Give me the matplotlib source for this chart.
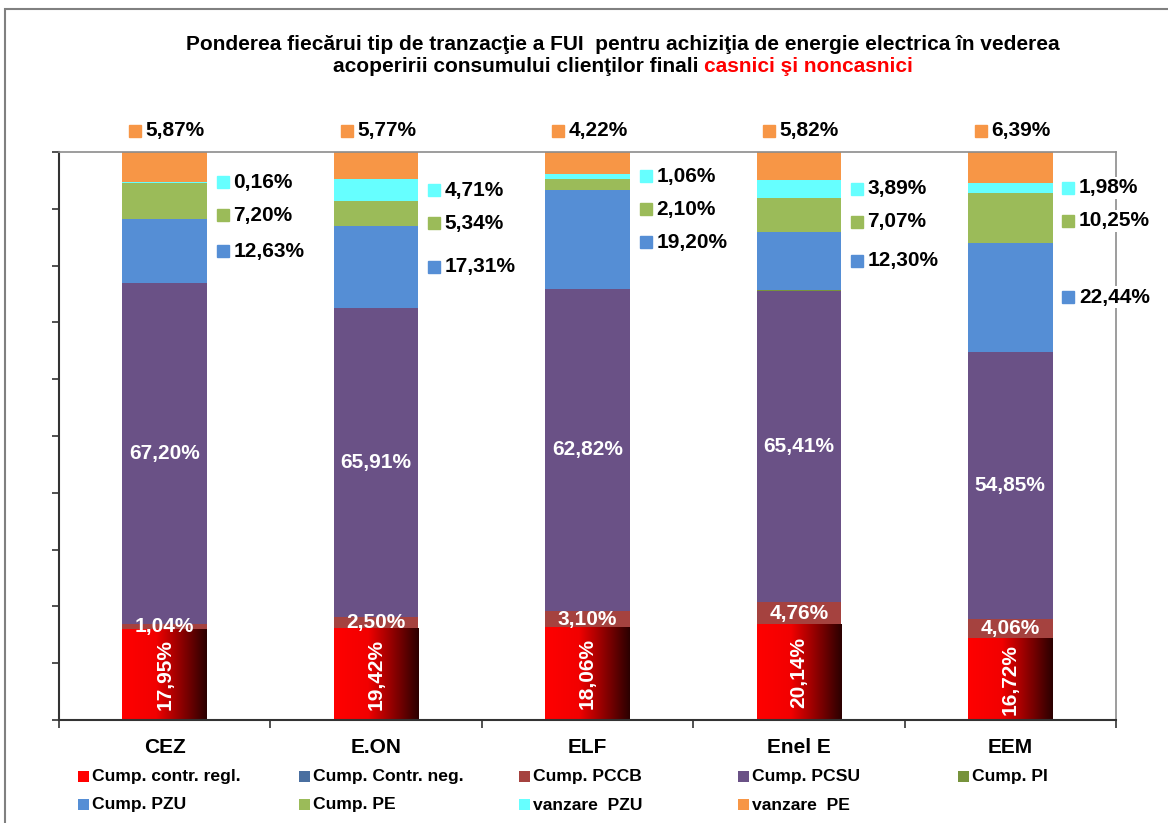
import matplotlib
matplotlib.use("Agg")
import matplotlib.pyplot as plt
import numpy as np
from matplotlib.patches import Rectangle
from matplotlib.colors import LinearSegmentedColormap

plt.rcParams['font.family'] = ['Liberation Sans', 'DejaVu Sans']

categories = ["CEZ", "E.ON", "ELF", "Enel E", "EEM"]
series_names = ["Cump. contr. regl.", "Cump. Contr. neg.", "Cump. PCCB", "Cump. PCSU",
                "Cump. PI", "Cump. PZU", "Cump. PE", "vanzare  PZU", "vanzare  PE"]
contr_regl = [17.95, 19.42, 18.06, 20.14, 16.72]
contr_neg = [0.0, 0.0, 0.0, 0.0, 0.0]
pccb = [1.04, 2.50, 3.10, 4.76, 4.06]
pcsu = [67.20, 65.91, 62.82, 65.41, 54.85]
pi = [0.0, 0.0, 0.0, 0.25, 0.0]
pzu = [12.63, 17.31, 19.20, 12.30, 22.44]
pe = [7.20, 5.34, 2.10, 7.07, 10.25]
v_pzu = [0.16, 4.71, 1.06, 3.89, 1.98]
v_pe = [5.87, 5.77, 4.22, 5.82, 6.39]

colors = ["#FF0000", "#4A6FA0", "#A5423F", "#6A5186", "#77933C",
          "#558ED5", "#9BBB59", "#66FFFF", "#F79646"]

data = np.array([contr_regl, contr_neg, pccb, pcsu, pi, pzu, pe, v_pzu, v_pe])
totals = data.sum(axis=0)
frac = data / totals

W, H = 1168, 823
fig = plt.figure(figsize=(W / 100, H / 100), dpi=100)
# outer chart frame
fig.patches.append(Rectangle((5 / W, -0.1), 1.2, 1 - 9 / H + 0.1, transform=fig.transFigure,
                             fill=False, edgecolor="#808080", linewidth=1.5))

ax = fig.add_axes([59 / W, 1 - 720 / H, (1116 - 59) / W, (720 - 152) / H])
x = np.arange(len(categories))
bw = 0.40

bottoms = np.zeros(len(categories))
bars = []
for i in range(len(series_names)):
    b = ax.bar(x, frac[i], bw, bottom=bottoms, color=colors[i], linewidth=0, zorder=2)
    bars.append(b)
    bottoms = bottoms + frac[i]

# gradient on the red segment
cmap = LinearSegmentedColormap.from_list("rg", [(0, "#FF0000"), (0.4, "#F20000"), (1.0, "#2A0000")])
grad = np.linspace(0, 1, 256).reshape(1, -1)
for j, rect in enumerate(bars[0]):
    x0, y0 = rect.get_x(), rect.get_y()
    w, h = rect.get_width(), rect.get_height()
    rect.set_visible(False)
    ax.imshow(grad, cmap=cmap, extent=[x0, x0 + w, y0, y0 + h], aspect='auto', zorder=2)
ax.set_xlim(-0.5, len(categories) - 0.5)
ax.set_ylim(0, 1)

def fmt(v):
    return f"{v:.2f}".replace(".", ",") + "%"

lblfs = 15
cum = np.vstack([np.zeros(len(categories)), np.cumsum(frac, axis=0)])
for j in range(len(categories)):
    # red (rotated)
    c0 = (cum[0, j] + cum[1, j]) / 2
    ax.text(x[j], c0, fmt(data[0, j]), rotation=90, ha='center', va='center',
            color='white', fontsize=lblfs, fontweight='bold', zorder=5)
    # PCCB
    c2 = (cum[2, j] + cum[3, j]) / 2
    ax.text(x[j], c2, fmt(data[2, j]), ha='center', va='center',
            color='white', fontsize=lblfs, fontweight='bold', zorder=5)
    # PCSU
    c3 = (cum[3, j] + cum[4, j]) / 2
    ax.text(x[j], c3, fmt(data[3, j]), ha='center', va='center',
            color='white', fontsize=lblfs, fontweight='bold', zorder=5)
    # side labels: vanzare PZU, PE, PZU (top-down), de-overlapped
    gap = 0.058
    prev = None
    for si in [7, 6, 5]:
        c = (cum[si, j] + cum[si + 1, j]) / 2
        if prev is not None and c > prev - gap:
            c = prev - gap
        prev = c
        xs = x[j] + bw / 2 + 0.075
        ax.plot([xs], [c], marker='s', markersize=8.5, color=colors[si], linestyle='none',
                zorder=6, clip_on=False)
        ax.text(xs + 0.05, c, fmt(data[si, j]), ha='left', va='center', color='black',
                fontsize=lblfs, fontweight='bold', zorder=6,
                bbox=dict(facecolor='white', edgecolor='none', pad=1))
    # vanzare PE above the bar
    xs = x[j] - bw / 2 + 0.06
    yt = 1.037
    ax.plot([xs], [yt], marker='s', markersize=8.5, color=colors[8], linestyle='none',
            zorder=6, clip_on=False)
    ax.text(xs + 0.05, yt, fmt(data[8, j]), ha='left', va='center', color='black',
            fontsize=lblfs, fontweight='bold', zorder=6)

# axes styling
for s in ['top', 'right']:
    ax.spines[s].set_color('#8C8C8C')
    ax.spines[s].set_linewidth(1.2)
for s in ['left', 'bottom']:
    ax.spines[s].set_color('#333333')
    ax.spines[s].set_linewidth(1.5)
ax.set_yticks(np.linspace(0, 1, 11))
ax.set_yticklabels([])
ax.tick_params(axis='y', direction='out', length=5, width=1.2, color='#333333')
ax.set_xticks(np.arange(-0.5, len(categories), 1.0))
ax.set_xticklabels([])
ax.tick_params(axis='x', direction='out', length=6, width=1.2, color='#333333')
for j, c in enumerate(categories):
    ax.text(x[j], -0.049, c, ha='center', va='center', fontsize=15, fontweight='bold',
            transform=ax.transData, clip_on=False)

# title
tfs = 15
fig.text(623 / W, 1 - 44 / H, "Ponderea fiecărui tip de tranzacţie a FUI  pentru achiziţia de energie electrica în vederea",
         ha='center', va='center', fontsize=tfs, fontweight='bold')
fig.canvas.draw()
r = fig.canvas.get_renderer()
part1 = "acoperirii consumului clienţilor finali "
part2 = "casnici şi noncasnici"
t1 = fig.text(0, 0, part1, fontsize=tfs, fontweight='bold')
t2 = fig.text(0, 0, part2, fontsize=tfs, fontweight='bold', color='#FF0000')
w1 = t1.get_window_extent(r).width
w2 = t2.get_window_extent(r).width
xstart = 623 - (w1 + w2) / 2
t1.set_position((xstart / W, 1 - 66 / H)); t1.set_va('center')
t2.set_position(((xstart + w1) / W, 1 - 66 / H)); t2.set_va('center')

# legend
leg_sq = [78, 299, 519, 738, 958]
leg_rows = [777, 805]
for i, name in enumerate(series_names):
    rr, cc = divmod(i, 5)
    xp, yp = leg_sq[cc], leg_rows[rr]
    fig.patches.append(Rectangle((xp / W, 1 - (yp + 5) / H), 11 / W, 11 / H,
                                 transform=fig.transFigure, facecolor=colors[i], edgecolor='none'))
    fig.text((xp + 14) / W, 1 - yp / H, name, ha='left', va='center', fontsize=12.6, fontweight='bold')

fig.savefig("out.png", dpi=100)
